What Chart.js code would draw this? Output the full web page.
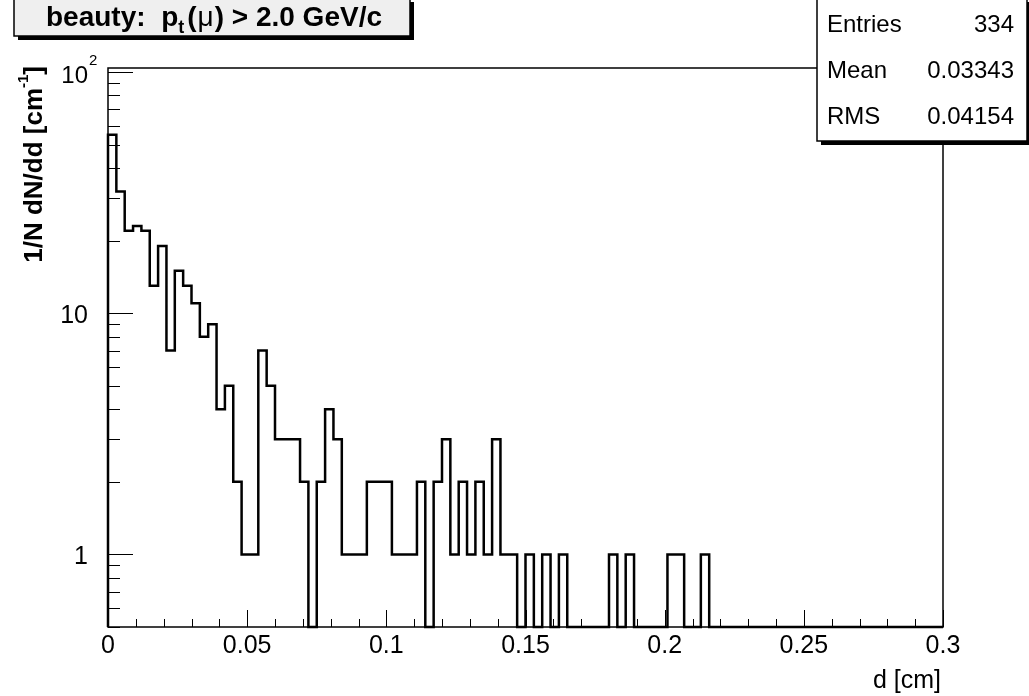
<!DOCTYPE html>
<html>
<head>
<meta charset="utf-8">
<script src="https://cdn.jsdelivr.net/npm/chart.js@4/dist/chart.umd.min.js"></script>
<style>
    body { margin: 0; background: #fff; }
    #wrap { width: 1029px; height: 696px; }
</style>
</head>
<body>
<div id="wrap"><canvas id="histCanvas" width="1029" height="696"></canvas></div>
<script>
// histogram: 100 bins of 0.003 cm between 0 and 0.3
var binWidth = 0.003;
var counts = [
    55, 32, 22, 23, 22, 13, 19, 7, 15, 13,
    11, 8, 9, 4, 5, 2, 1, 1, 7, 5,
    3, 3, 3, 2, 0, 2, 4, 3, 1, 1,
    1, 2, 2, 2, 1, 1, 1, 2, 0, 2,
    3, 1, 2, 1, 2, 1, 3, 1, 1, 0,
    1, 0, 1, 0, 1, 0, 0, 0, 0, 0,
    1, 0, 1, 0, 0, 0, 0, 1, 1, 0,
    0, 1, 0, 0, 0, 0, 0, 0, 0, 0,
    0, 0, 0, 0, 0, 0, 0, 0, 0, 0,
    0, 0, 0, 0, 0, 0, 0, 0, 0, 0
];

// axes
var xRange = [0, 0.3];
var yRange = [0.5, 104];
var xTickValues = [0, 0.05, 0.1, 0.15, 0.2, 0.25, 0.3];
var xTickLabels = ["0", "0.05", "0.1", "0.15", "0.2", "0.25", "0.3"];
var yTickValues = [1, 10, 100];
var yTickLabels = ["1", "10", "10^2"];

// stats box
var statNames = ["Entries", "Mean", "RMS"];
var statValues = ["334", "0.03343", "0.04154"];

var FONT = '"Liberation Sans", Arial, Helvetica, sans-serif';

// step points: empty bins are drawn along the bottom of the frame
var points = [{ x: xRange[0], y: yRange[0] }];
for (var i = 0; i < counts.length; i++) {
    points.push({ x: xRange[0] + i * binWidth, y: counts[i] > 0 ? counts[i] : yRange[0] });
}
points.push({ x: xRange[1], y: yRange[0] });

function drawText(ctx, s, x, y, font, align) {
    ctx.font = font;
    var w = ctx.measureText(s).width;
    if (align == "right") x -= w;
    if (align == "center") x -= w / 2;
    ctx.fillText(s, x, y);
    return x + w;
}

function boxWithShadow(ctx, x, y, w, h, fill) {
    ctx.fillStyle = "#000";
    ctx.fillRect(x + 4, y + 4, w, h);
    ctx.fillStyle = fill;
    ctx.fillRect(x, y, w, h);
    ctx.strokeStyle = "#000";
    ctx.lineWidth = 1.5;
    ctx.strokeRect(x, y, w, h);
}

var rootStyle = {
    id: "rootStyle",
    afterDatasetsDraw: function (chart) {
        var ctx = chart.ctx;
        var a = chart.chartArea;
        var xs = chart.scales.x;
        var ys = chart.scales.y;
        var i, k, px, py;
        ctx.save();
        ctx.strokeStyle = "#000";
        ctx.lineWidth = 1.5;
        ctx.strokeRect(a.left, a.top, a.right - a.left, a.bottom - a.top);

        // inward ticks
        ctx.lineWidth = 1;
        ctx.beginPath();
        for (i = 0; i <= 30; i++) {
            px = Math.round(xs.getPixelForValue(i * 0.01)) + 0.5;
            var len = (i % 5 == 0) ? 17 : 8;
            ctx.moveTo(px, a.bottom);
            ctx.lineTo(px, a.bottom - len);
        }
        var decades = [0.1, 1, 10, 100];
        for (i = 0; i < decades.length; i++) {
            for (k = 1; k <= 9; k++) {
                var v = decades[i] * k;
                if (v < yRange[0] || v > yRange[1]) continue;
                py = Math.round(ys.getPixelForValue(v)) + 0.5;
                ctx.moveTo(a.left, py);
                ctx.lineTo(a.left + (k == 1 ? 25 : 12), py);
            }
        }
        ctx.stroke();

        // tick labels
        ctx.fillStyle = "#000";
        ctx.textBaseline = "alphabetic";
        for (i = 0; i < xTickValues.length; i++) {
            px = xs.getPixelForValue(xTickValues[i]);
            drawText(ctx, xTickLabels[i], px, a.bottom + 26, "25px " + FONT, "center");
        }
        for (i = 0; i < yTickValues.length; i++) {
            py = ys.getPixelForValue(yTickValues[i]);
            var lab = yTickLabels[i];
            if (lab.indexOf("^") > 0) {
                var parts = lab.split("^");
                var end = drawText(ctx, parts[0], a.left - 20, py + 11, "24px " + FONT, "right");
                drawText(ctx, parts[1], end + 1, py - 7, "15px " + FONT, "left");
            } else {
                drawText(ctx, lab, a.left - 20, py + 10, "25px " + FONT, "right");
            }
        }

        // axis titles
        drawText(ctx, "d [cm]", a.right - 2, a.bottom + 61, "25px " + FONT, "right");

        ctx.save();
        ctx.translate(42, a.top - 2);
        ctx.rotate(-Math.PI / 2);
        var main = "1/N dN/dd [cm";
        var sup = "-1";
        ctx.font = "bold 15px " + FONT;
        var supW = ctx.measureText(sup).width;
        ctx.font = "bold 26px " + FONT;
        var wClose = ctx.measureText("]").width;
        var wMain = ctx.measureText(main).width;
        var x0 = -(wMain + supW + wClose);
        ctx.fillText(main, x0, 0);
        ctx.fillText("]", x0 + wMain + supW, 0);
        ctx.font = "bold 15px " + FONT;
        ctx.fillText(sup, x0 + wMain, -14);
        ctx.restore();

        ctx.restore();
    },
    afterDraw: function (chart) {
        var ctx = chart.ctx;
        ctx.save();

        // title box
        boxWithShadow(ctx, 14, -2, 396, 38, "#efefef");
        ctx.fillStyle = "#000";
        var x = drawText(ctx, "beauty:  p", 46, 26, "bold 28px " + FONT, "left");
        x = drawText(ctx, "t", x, 33, "bold 18px " + FONT, "left");
        x = drawText(ctx, "(", x + 3, 26, "bold 28px " + FONT, "left");
        x = drawText(ctx, "\u03bc", x + 1, 26, "28px " + FONT, "left");
        drawText(ctx, ") > 2.0 GeV/c", x + 1, 26, "bold 28px " + FONT, "left");

        // stats box
        boxWithShadow(ctx, 817, -2, 210, 143, "#fff");
        ctx.fillStyle = "#000";
        var rows = [32, 78, 124];
        for (var i = 0; i < statNames.length; i++) {
            drawText(ctx, statNames[i], 827, rows[i], "24px " + FONT, "left");
            drawText(ctx, statValues[i], 1014, rows[i], "24px " + FONT, "right");
        }
        ctx.restore();
    }
};

var ctx = document.getElementById("histCanvas");
var histChart = new Chart(ctx, {
    type: "line",
    data: {
        datasets: [{
            data: points,
            stepped: true,
            borderColor: "#000",
            borderWidth: 2.5,
            pointRadius: 0,
            fill: false,
            clip: 2
        }]
    },
    options: {
        responsive: false,
        animation: false,
        events: [],
        layout: {
            padding: { left: 108, right: 86, top: 68, bottom: 69 }
        },
        plugins: {
            legend: { display: false },
            tooltip: { enabled: false }
        },
        scales: {
            x: { type: "linear", min: xRange[0], max: xRange[1], display: false },
            y: { type: "logarithmic", min: yRange[0], max: yRange[1], display: false }
        }
    },
    plugins: [rootStyle]
});
</script>
</body>
</html>
